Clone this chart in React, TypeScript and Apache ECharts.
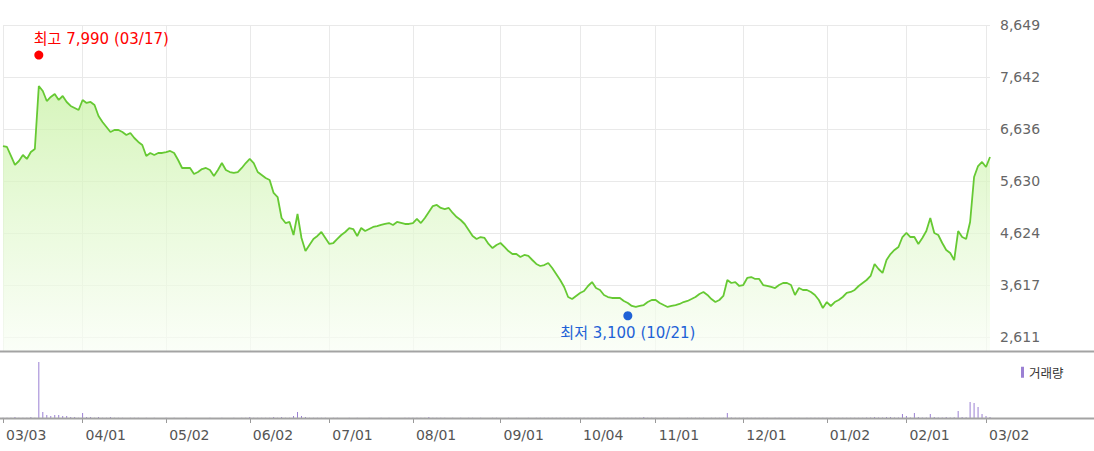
import React, { useEffect, useRef } from "react";
import * as echarts from "echarts";

// Trading days (KRX) 2022-03-03 .. 2023-03-03
const tradingDays: [string, number[]][] = [
  ["2022-03", [3, 4, 7, 8, 10, 11, 14, 15, 16, 17, 18, 21, 22, 23, 24, 25, 28, 29, 30, 31]],
  ["2022-04", [1, 4, 5, 6, 7, 8, 11, 12, 13, 14, 15, 18, 19, 20, 21, 22, 25, 26, 27, 28, 29]],
  ["2022-05", [2, 3, 4, 6, 9, 10, 11, 12, 13, 16, 17, 18, 19, 20, 23, 24, 25, 26, 27, 30, 31]],
  ["2022-06", [2, 3, 7, 8, 9, 10, 13, 14, 15, 16, 17, 20, 21, 22, 23, 24, 27, 28, 29, 30]],
  ["2022-07", [1, 4, 5, 6, 7, 8, 11, 12, 13, 14, 15, 18, 19, 20, 21, 22, 25, 26, 27, 28, 29]],
  ["2022-08", [1, 2, 3, 4, 5, 8, 9, 10, 11, 12, 16, 17, 18, 19, 22, 23, 24, 25, 26, 29, 30, 31]],
  ["2022-09", [1, 2, 5, 6, 7, 8, 13, 14, 15, 16, 19, 20, 21, 22, 23, 26, 27, 28, 29, 30]],
  ["2022-10", [4, 5, 6, 7, 11, 12, 13, 14, 17, 18, 19, 20, 21, 24, 25, 26, 27, 28, 31]],
  ["2022-11", [1, 2, 3, 4, 7, 8, 9, 10, 11, 14, 15, 16, 17, 18, 21, 22, 23, 24, 25, 28, 29, 30]],
  ["2022-12", [1, 2, 5, 6, 7, 8, 9, 12, 13, 14, 15, 16, 19, 20, 21, 22, 23, 26, 27, 28, 29]],
  ["2023-01", [2, 3, 4, 5, 6, 9, 10, 11, 12, 13, 16, 17, 18, 19, 20, 25, 26, 27, 30, 31]],
  ["2023-02", [1, 2, 3, 6, 7, 8, 9, 10, 13, 14, 15, 16, 17, 20, 21, 22, 23, 24, 27, 28]],
  ["2023-03", [2, 3]],
];
const dates: string[] = tradingDays.flatMap(([ym, ds]) =>
  ds.map((d) => `${ym}-${String(d).padStart(2, "0")}`)
);

// Closing prices (KRW)
const closePrices: number[] = [
  6307, 6288, 6114, 5940, 6017, 6133, 6056, 6191, 6249, 7469,
  7372, 7178, 7256, 7314, 7198, 7275, 7159, 7082, 7043, 7004,
  7198, 7140, 7159, 7101, 6888, 6772, 6675, 6578, 6617, 6617,
  6578, 6520, 6559, 6462, 6385, 6327, 6114, 6172, 6133, 6172,
  6172, 6191, 6211, 6172, 6036, 5882, 5882, 5882, 5766, 5804,
  5862, 5882, 5843, 5727, 5843, 5978, 5843, 5804, 5785, 5804,
  5882, 5978, 6056, 5978, 5804, 5746, 5688, 5649, 5398, 5320,
  4914, 4817, 4837, 4585, 4991, 4527, 4275, 4392, 4508, 4566,
  4643, 4527, 4411, 4430, 4508, 4585, 4643, 4720, 4701, 4566,
  4720, 4662, 4701, 4740, 4759, 4779, 4798, 4817, 4779, 4837,
  4818, 4798, 4798, 4817, 4895, 4817, 4914, 5030, 5146, 5166,
  5108, 5088, 5108, 5011, 4933, 4875, 4798, 4682, 4566, 4508,
  4546, 4527, 4411, 4333, 4392, 4430, 4353, 4275, 4217, 4217,
  4159, 4198, 4179, 4101, 4024, 3985, 4004, 4043, 3946, 3830,
  3714, 3579, 3385, 3346, 3405, 3463, 3501, 3598, 3675, 3559,
  3521, 3424, 3385, 3366, 3366, 3366, 3308, 3269, 3211, 3192,
  3211, 3230, 3288, 3327, 3327, 3269, 3230, 3192, 3211, 3230,
  3250, 3288, 3308, 3346, 3385, 3443, 3482, 3424, 3346, 3288,
  3327, 3405, 3714, 3656, 3675, 3598, 3617, 3753, 3772, 3734,
  3734, 3617, 3598, 3579, 3559, 3617, 3656, 3656, 3617, 3424,
  3559, 3521, 3521, 3482, 3424, 3327, 3172, 3288, 3211, 3288,
  3327, 3385, 3463, 3482, 3521, 3598, 3656, 3714, 3792, 4024,
  3927, 3850, 4101, 4217, 4295, 4353, 4546, 4624, 4546, 4546,
  4411, 4527, 4662, 4914, 4624, 4585, 4430, 4295, 4237, 4101,
  4662, 4546, 4508, 4837, 5708, 5920, 5998, 5901, 6095,
];

// Volume (thousand shares)
const volumes: number[] = [
  12, 8, 10, 50, 9, 14, 11, 50, 18, 2800,
  300, 150, 100, 150, 150, 100, 100, 50, 50, 16,
  250, 50, 50, 12, 50, 10, 9, 50, 8, 7,
  9, 6, 8, 7, 10, 6, 8, 5, 7, 6,
  5, 7, 6, 8, 5, 6, 7, 5, 6, 4,
  6, 5, 7, 6, 5, 8, 6, 5, 7, 6,
  9, 12, 50, 8, 10, 7, 9, 11, 50, 8,
  50, 14, 12, 100, 300, 100, 50, 15, 10, 8,
  7, 9, 6, 8, 7, 6, 5, 8, 6, 7,
  5, 6, 7, 5, 6, 8, 5, 7, 6, 5,
  6, 8, 7, 9, 10, 12, 14, 50, 11, 9,
  8, 7, 6, 8, 5, 7, 6, 9, 8, 6,
  7, 5, 6, 8, 7, 6, 5, 7, 6, 8,
  6, 5, 7, 6, 9, 8, 7, 10, 12, 11,
  13, 15, 10, 9, 8, 11, 12, 14, 9, 8,
  7, 9, 8, 6, 7, 8, 10, 12, 9, 8,
  11, 50, 10, 9, 7, 6, 8, 7, 6, 5,
  7, 6, 8, 9, 10, 8, 7, 6, 8, 12,
  14, 18, 250, 20, 12, 10, 16, 14, 11, 9,
  8, 7, 9, 6, 8, 7, 6, 5, 9, 8,
  7, 6, 8, 7, 9, 12, 10, 8, 9, 11,
  10, 12, 14, 11, 13, 15, 18, 20, 24, 50,
  22, 19, 50, 50, 26, 30, 200, 100, 28, 250,
  50, 25, 30, 200, 50, 22, 20, 50, 26, 34,
  350, 50, 40, 800, 750, 550, 200, 100, 50,
];

const priceTicks: number[] = [2611, 3617, 4624, 5630, 6636, 7642, 8649];
const priceMin = 2340;
const priceMax = 8649;
const volumeMax = 3300;

const highPoint = { date: "2022-03-17", value: 7990 };
const lowPoint = { date: "2022-10-21", value: 3100 };
const volumeName = "거래량";

const fmt = (n: number) => n.toLocaleString("en-US");
const mmdd = (d: string) => `${d.slice(5, 7)}/${d.slice(8, 10)}`;
const isMonthStart = (i: number) =>
  i === 0 || dates[i].slice(0, 7) !== dates[i - 1].slice(0, 7);

const FONT = "'DejaVu Sans', 'Noto Sans CJK KR', sans-serif";

export default function App() {
  const ref = useRef<HTMLDivElement>(null);
  useEffect(() => {
    if (!ref.current) return;
    const chart = echarts.init(ref.current, undefined, { renderer: "svg" });
    const gridL = 3;
    const gridR = 104;
    chart.setOption({
      animation: false,
      backgroundColor: "#ffffff",
      textStyle: { fontFamily: FONT },
      grid: [
        { left: gridL, right: gridR, top: 25, height: 326 },
        { left: gridL, right: gridR, top: 352, height: 66 },
      ],
      legend: {
        data: [volumeName],
        left: 1021,
        top: 366,
        padding: 0,
        icon: "rect",
        itemWidth: 3,
        itemHeight: 11,
        selectedMode: false,
        textStyle: { fontSize: 12.5, color: "#333", fontFamily: "'Noto Sans CJK KR', sans-serif" },
      },
      xAxis: [
        {
          type: "category",
          gridIndex: 0,
          data: dates,
          boundaryGap: false,
          axisLine: { show: false },
          axisTick: { show: false },
          axisLabel: { show: false },
          splitLine: {
            show: true,
            interval: (i: number) => isMonthStart(i),
            lineStyle: { color: "#e9e9e9", width: 1 },
          },
        },
        {
          type: "category",
          gridIndex: 1,
          data: dates,
          boundaryGap: false,
          axisLine: { show: false },
          axisTick: {
            show: true,
            interval: (i: number) => isMonthStart(i),
            length: 5,
            lineStyle: { color: "#999", width: 1 },
          },
          axisLabel: {
            show: true,
            interval: (i: number) => isMonthStart(i),
            formatter: (v: string) => mmdd(v),
            align: "left",
            padding: [0, 0, 0, 3],
            margin: 10,
            color: "#555",
            fontSize: 14,
            fontFamily: FONT,
          },
          splitLine: { show: false },
        },
      ],
      yAxis: [
        {
          type: "value",
          gridIndex: 0,
          position: "right",
          min: priceMin,
          max: priceMax,
          axisLine: { show: false },
          axisTick: { show: false, customValues: priceTicks },
          axisLabel: {
            customValues: priceTicks,
            formatter: (v: number) => fmt(v),
            color: "#666",
            fontSize: 14,
            margin: 10,
            fontFamily: FONT,
          },
          splitLine: { show: true, lineStyle: { color: "#e9e9e9", width: 1 } },
        },
        {
          type: "value",
          gridIndex: 1,
          min: 0,
          max: volumeMax,
          show: false,
          splitLine: { show: false },
        },
      ],
      series: [
        {
          name: "price",
          type: "line",
          xAxisIndex: 0,
          yAxisIndex: 0,
          data: closePrices,
          symbol: "none",
          lineStyle: { color: "#66c933", width: 1.8 },
          itemStyle: { color: "#66c933" },
          areaStyle: {
            color: new echarts.graphic.LinearGradient(
              0, 80, 0, 351,
              [
                { offset: 0, color: "#c3f09c" },
                { offset: 0.5, color: "#e0f8cc" },
                { offset: 1, color: "#f9fef5" },
              ],
              true
            ),
          },
          markPoint: {
            silent: true,
            symbol: "circle",
            symbolSize: 9,
            data: [
              {
                name: "최고",
                coord: [highPoint.date, highPoint.value],
                symbolOffset: [0, -4],
                itemStyle: { color: "#ff0000" },
                label: {
                  show: true,
                  position: "top",
                  distance: 4,
                  align: "left",
                  offset: [-5, 0],
                  formatter: `최고 ${fmt(highPoint.value)} (${mmdd(highPoint.date)})`,
                  color: "#ff0000",
                  fontSize: 15,
                  fontFamily: FONT,
                },
              },
              {
                name: "최저",
                coord: [lowPoint.date, lowPoint.value],
                symbolOffset: [0, 4],
                itemStyle: { color: "#1f62d6" },
                label: {
                  show: true,
                  position: "bottom",
                  distance: 5,
                  formatter: `최저 ${fmt(lowPoint.value)} (${mmdd(lowPoint.date)})`,
                  color: "#1f62d6",
                  fontSize: 15,
                  fontFamily: FONT,
                },
              },
            ],
          },
        },
        {
          name: volumeName,
          type: "bar",
          xAxisIndex: 1,
          yAxisIndex: 1,
          data: volumes,
          barWidth: 1,
          itemStyle: { color: "#9b80d3" },
        },
      ],
      graphic: [
        {
          type: "line",
          z: 100,
          shape: { x1: 0, y1: 351.5, x2: 1094, y2: 351.5 },
          style: { stroke: "#a3a3a3", lineWidth: 2 },
        },
        {
          type: "line",
          z: 100,
          shape: { x1: 0, y1: 418.5, x2: 1094, y2: 418.5 },
          style: { stroke: "#a3a3a3", lineWidth: 2 },
        },
      ],
    });
    return () => chart.dispose();
  }, []);
  return (
    <div
      ref={ref}
      style={{ position: "absolute", left: 0, top: 0, width: 1094, height: 451 }}
    />
  );
}
